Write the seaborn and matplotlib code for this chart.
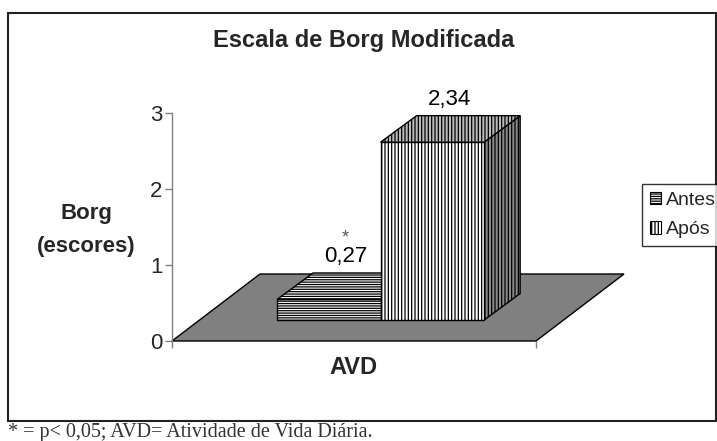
import numpy as np
import pandas as pd
import matplotlib
matplotlib.use("Agg")
import matplotlib.pyplot as plt
import seaborn as sns
from matplotlib.patches import Polygon, Rectangle, Patch
from matplotlib.transforms import ScaledTranslation

# ---- data ----
categories = ["AVD"]
groups = ["Antes", "Após"]
values = [0.27, 2.34]
value_labels = ["0,27", "2,34"]
yticks = [0, 1, 2, 3]
ytick_labels = ["0", "1", "2", "3"]
title = "Escala de Borg Modificada"
ylabel_lines = ["Borg", "(escores)"]
footnote = "* = p< 0,05; AVD= Atividade de Vida Diária."

hatches = ["-------", "|||||"]
top_colors = ["white", "#bbbbbb"]
side_colors = ["white", "#8a8a8a"]

sns.set_style("white")
plt.rcParams['font.family'] = ['Liberation Sans', 'DejaVu Sans']
plt.rcParams['hatch.linewidth'] = 0.9

W, H = 717, 441
fig = plt.figure(figsize=(W / 100, H / 100), dpi=100)

# outer frame
fig.patches.append(Rectangle((8 / W, 20 / H), (716 - 8) / W, (428 - 20) / H,
                             transform=fig.transFigure, fill=False,
                             edgecolor="#222222", linewidth=1.5))

ax_l, ax_b, ax_w, ax_h = 172, 100, 364, 228
ax = fig.add_axes([ax_l / W, ax_b / H, ax_w / W, ax_h / H])
ax.patch.set_alpha(0)

df = pd.DataFrame({"cat": categories * len(groups), "grupo": groups, "borg": values})
sns.barplot(data=df, x="cat", y="borg", hue="grupo", hue_order=groups,
            palette=["white", "white"], edgecolor="black", linewidth=1,
            width=0.8, saturation=1, legend=False, ax=ax)

half = 0.703
ax.set_xlim(-half, half)
ax.set_ylim(0, 3)

ppx = ax_w / (2 * half)
ppy = ax_h / 3.0

# 3D-like offsets (pixels -> data units)
fx, fy = 26.6 / ppx, 21 / ppy      # front face depth shift
dx, dy = 36 / ppx, 26.5 / ppy      # bar depth
floor_dx, floor_dy = 88 / ppx, 67 / ppy

bars = sorted(list(ax.patches), key=lambda p: p.get_x())

floor = Polygon([(-half, 0), (half, 0), (half + floor_dx, floor_dy),
                 (-half + floor_dx, floor_dy)], closed=True,
                facecolor="#808080", edgecolor="black", linewidth=1,
                zorder=1, clip_on=False)
ax.add_patch(floor)

shift = ScaledTranslation(26.6 / 100, 21 / 100, fig.dpi_scale_trans)
for i, p in enumerate(bars):
    x0, w, h = p.get_x(), p.get_width(), p.get_height()
    z = 3 + i
    p.set_transform(ax.transData + shift)
    p.set_hatch(hatches[i])
    p.set_zorder(z)
    p.set_clip_on(False)
    top = [(x0 + fx, h + fy), (x0 + w + fx, h + fy),
           (x0 + w + fx + dx, h + fy + dy), (x0 + fx + dx, h + fy + dy)]
    ax.add_patch(Polygon(top, closed=True, facecolor=top_colors[i], edgecolor="black",
                         linewidth=1, hatch=hatches[i], zorder=z, clip_on=False))
    side = [(x0 + w + fx, fy), (x0 + w + fx, h + fy),
            (x0 + w + fx + dx, h + fy + dy), (x0 + w + fx + dx, fy + dy)]
    ax.add_patch(Polygon(side, closed=True, facecolor=side_colors[i], edgecolor="black",
                         linewidth=1, hatch=hatches[i], zorder=z - 0.5, clip_on=False))
    ax.annotate(value_labels[i], xy=(x0 + w / 2, h), xytext=(43.6, 64),
                textcoords="offset pixels", ha="center", va="center",
                fontsize=16, color="black", zorder=10, annotation_clip=False)
    if i == 0:
        ax.annotate("*", xy=(x0 + w / 2, h), xytext=(42.6, 82),
                    textcoords="offset pixels", ha="center", va="center",
                    fontsize=13, color="#555555", zorder=10, annotation_clip=False)

for s in ["top", "right", "bottom"]:
    ax.spines[s].set_visible(False)
ax.spines["left"].set_color("#808080")
ax.spines["left"].set_linewidth(1)

ax.set_yticks(yticks)
ax.set_yticklabels(ytick_labels)
ax.set_xticks([-half, half])
ax.set_xticklabels(["", ""])
ax.tick_params(axis="y", direction="out", length=5, width=1, color="#808080",
               labelsize=16, pad=2, left=True)
ax.tick_params(axis="x", direction="out", length=5, width=1, color="#808080",
               bottom=True)
ax.set_xlabel("")
ax.set_ylabel("")

fig.text(353 / W, 1 - 368 / H, categories[0], ha="center", va="center",
         fontsize=17, fontweight="bold")
fig.text(364 / W, 1 - 40 / H, title, ha="center", va="center",
         fontsize=17, fontweight="bold")
fig.text(86 / W, 1 - 219 / H, ylabel_lines[0], ha="center", va="baseline",
         fontsize=16, fontweight="bold")
fig.text(86 / W, 1 - 252 / H, ylabel_lines[1], ha="center", va="baseline",
         fontsize=16, fontweight="bold")

handles = [Patch(facecolor="white", edgecolor="black", hatch=hatches[i],
                 linewidth=0.8, label=groups[i]) for i in range(len(groups))]
leg = fig.legend(handles=handles, loc="upper left",
                 bbox_to_anchor=(642 / W, 1 - 184 / H), frameon=True,
                 fancybox=False, edgecolor="black", fontsize=14,
                 handlelength=0.6, handleheight=0.6, handletextpad=0.25,
                 borderpad=0.4, labelspacing=0.65, borderaxespad=0)
leg.get_frame().set_linewidth(1)

fig.text(8 / W, 1 - 437.5 / H, footnote, ha="left", va="baseline",
         fontsize=14.5, family=["Liberation Serif", "DejaVu Serif"], color="#333333")

fig.savefig("out.png", dpi=100)
